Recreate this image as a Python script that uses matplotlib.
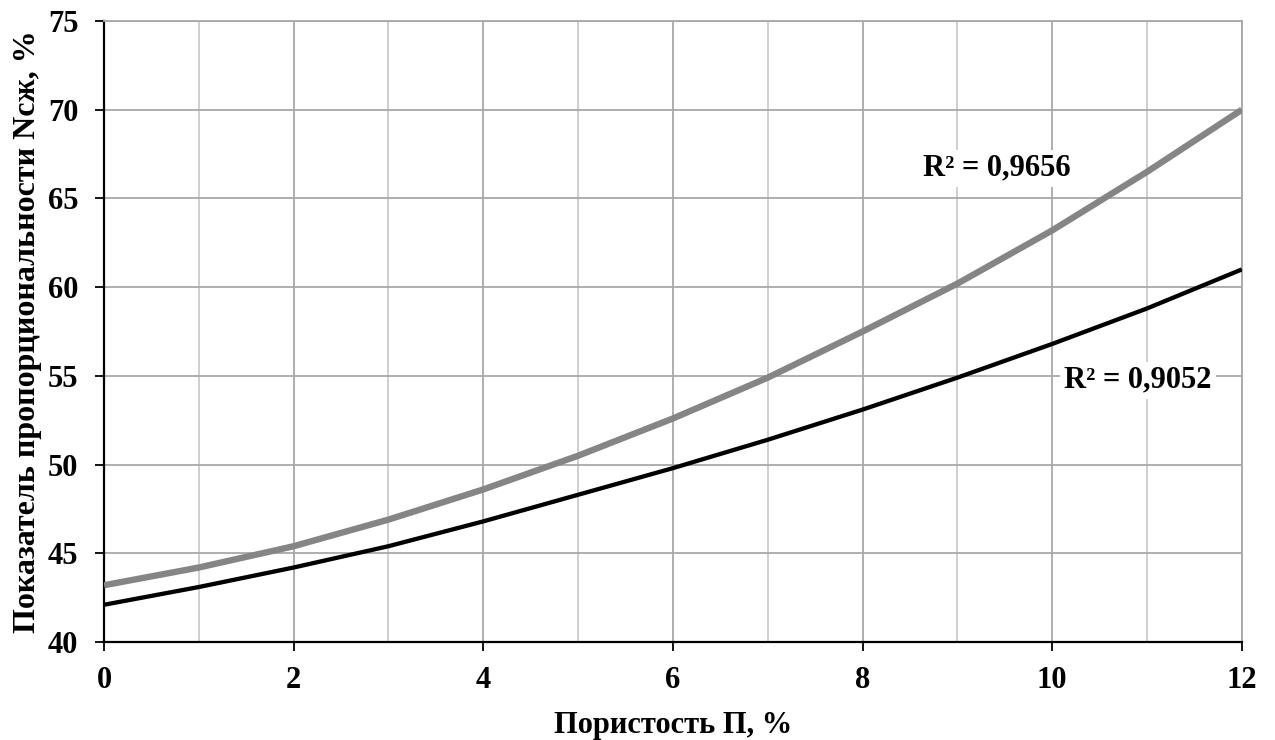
import matplotlib
matplotlib.use("Agg")
import matplotlib.pyplot as plt
from matplotlib.ticker import MultipleLocator

# Data (trend curves)
porosity = [0, 1, 2, 3, 4, 5, 6, 7, 8, 9, 10, 11, 12]
n_gray = [43.2, 44.2, 45.4, 46.9, 48.6, 50.5, 52.6, 54.9, 57.5, 60.2, 63.2, 66.5, 70.0]
n_black = [42.1, 43.1, 44.2, 45.4, 46.8, 48.3, 49.8, 51.4, 53.1, 54.9, 56.8, 58.8, 61.0]
r2_gray = "R² = 0,9656"
r2_black = "R² = 0,9052"
x_label = "Пористость П, %"
y_label = "Показатель пропорциональности Nсж, %"

plt.rcParams['font.family'] = ['Liberation Serif', 'DejaVu Serif']
plt.rcParams['font.weight'] = 'bold'

fig = plt.figure(figsize=(12.75, 7.4), dpi=100)
ax = fig.add_axes([0.0816, 0.1324, 0.8924, 0.8392])

ax.set_xlim(0, 12)
ax.set_ylim(40, 75)
ax.xaxis.set_major_locator(MultipleLocator(2))
ax.xaxis.set_minor_locator(MultipleLocator(1))
ax.yaxis.set_major_locator(MultipleLocator(5))

ax.grid(which='major', axis='both', color='#a8a8a8', linewidth=1.3, zorder=0)
ax.grid(which='minor', axis='x', color='#cccccc', linewidth=1.3, zorder=0)
ax.set_axisbelow(True)

ax.plot(porosity, n_gray, color='#858585', linewidth=4.6, solid_capstyle='butt', zorder=3)
ax.plot(porosity, n_black, color='#000000', linewidth=3.1, solid_capstyle='butt', zorder=3)

ax.text(9.42, 66.7, r2_gray, fontsize=22, fontweight='bold', ha='center', va='center',
        bbox=dict(facecolor='white', edgecolor='none', pad=3), zorder=2)
ax.text(10.90, 54.75, r2_black, fontsize=22, fontweight='bold', ha='center', va='center',
        bbox=dict(facecolor='white', edgecolor='none', pad=3), zorder=2)

for s in ['left', 'bottom']:
    ax.spines[s].set_color('black')
    ax.spines[s].set_linewidth(1.6)
for s in ['top', 'right']:
    ax.spines[s].set_color('#a8a8a8')
    ax.spines[s].set_linewidth(1.3)

ax.tick_params(axis='both', which='major', direction='out', length=6.5, width=1.3,
               labelsize=22, colors='black')
ax.tick_params(axis='y', which='major', pad=12)
ax.tick_params(axis='x', which='major', pad=11)
ax.tick_params(axis='x', which='minor', length=0)
for lbl in ax.get_xticklabels() + ax.get_yticklabels():
    lbl.set_fontweight('bold')

ax.set_xlabel(x_label, fontsize=22, fontweight='bold', labelpad=11)
ax.set_ylabel(y_label, fontsize=23, fontweight='bold', labelpad=4)

fig.savefig('out.png', dpi=100, facecolor='white')
